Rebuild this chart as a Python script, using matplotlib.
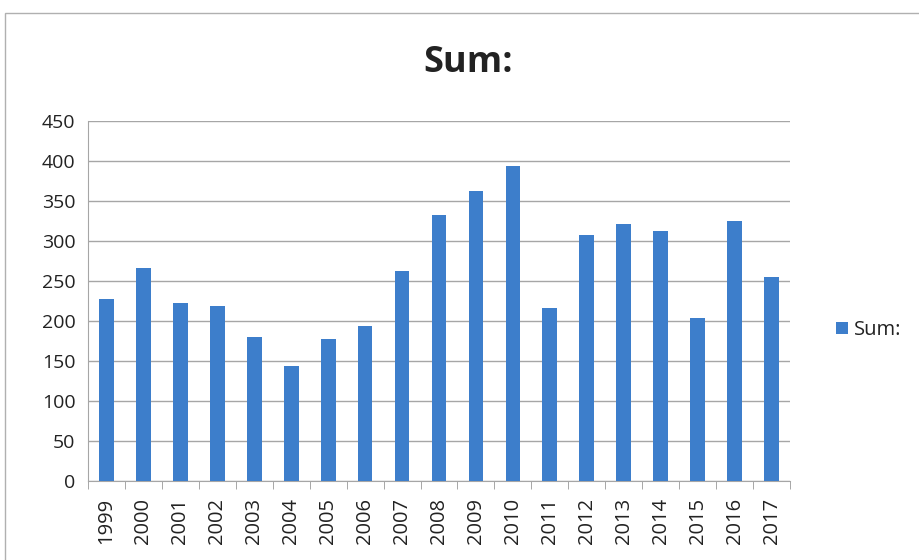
import matplotlib.pyplot as plt
from matplotlib.patches import Rectangle
import numpy as np

plt.rcParams['font.family'] = ['Open Sans', 'DejaVu Sans']

# data
years = ['1999', '2000', '2001', '2002', '2003', '2004', '2005', '2006', '2007', '2008',
         '2009', '2010', '2011', '2012', '2013', '2014', '2015', '2016', '2017']
sums = [228, 266, 222, 219, 180, 144, 177, 194, 263, 332,
        363, 394, 216, 308, 321, 313, 204, 325, 255]

fig = plt.figure(figsize=(9.19, 5.6), dpi=100)
ax = fig.add_axes([88 / 919, 1 - 481 / 560, 702 / 919, 360 / 560])

x = np.arange(len(years))
ax.bar(x, sums, width=0.4, color='#3d7ecb', label='Sum:', zorder=3)

ax.set_ylim(0, 450)
ax.set_yticks(range(0, 451, 50))
ax.set_xlim(-0.5, len(years) - 0.5)
ax.set_xticks(x)
ax.set_xticklabels(years, rotation=90, fontsize=14.5, color='#222222')
ax.tick_params(axis='x', which='major', length=0, pad=12)
ax.set_xticks(np.arange(-0.5, len(years), 1), minor=True)
ax.tick_params(axis='x', which='minor', length=6, color='#999999', direction='out')
ax.tick_params(axis='y', length=0, labelsize=14, labelcolor='#222222', pad=9)

ax.grid(axis='y', color='#a6a6a6', linewidth=1, zorder=0)
for s in ['top', 'right']:
    ax.spines[s].set_visible(False)
ax.spines['left'].set_color('#a6a6a6')
ax.spines['bottom'].set_color('#a6a6a6')

fig.text(0.509, 1 - 63 / 560, 'Sum:', ha='center', va='center', fontsize=26,
         fontweight='bold', color='#222222')

fig.legend(loc='center left', bbox_to_anchor=(818 / 919, 1 - 330 / 560), frameon=False,
           fontsize=14.5, handlelength=0.6, handleheight=0.6, handletextpad=0.3,
           labelcolor='#222222')

# outer chart border
fig.patches.append(Rectangle((5 / 919, -0.05), 1.0, 1 - 13 / 560 + 0.05,
                             transform=fig.transFigure, fill=False,
                             edgecolor='#b0b0b0', linewidth=1))

fig.savefig('out.png', dpi=100)
